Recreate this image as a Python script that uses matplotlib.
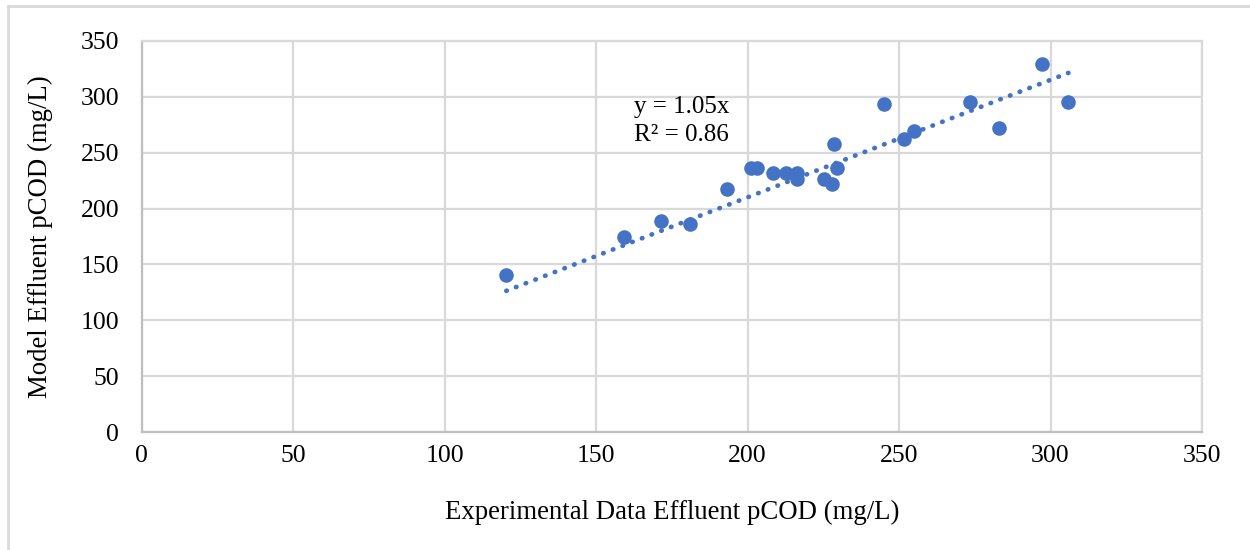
import numpy as np
import matplotlib
matplotlib.use("Agg")
import matplotlib.pyplot as plt
from matplotlib.lines import Line2D

# Data
exp_pcod = [120.4, 159.1, 171.4, 180.9, 193.3, 201.2, 203.2, 208.3, 212.7, 216.2,
            216.2, 225.1, 227.8, 229.5, 228.5, 245.2, 251.5, 254.8, 273.4, 283.0,
            297.1, 305.9]
model_pcod = [140.6, 174.3, 188.8, 186.1, 217.2, 235.9, 235.9, 231.5, 231.5, 231.5,
              226.4, 226.4, 221.9, 235.9, 257.4, 293.1, 262.1, 269.3, 295.4, 271.7,
              328.9, 295.4]
trend_slope = 1.05
x_ticks = [0, 50, 100, 150, 200, 250, 300, 350]
y_ticks = [0, 50, 100, 150, 200, 250, 300, 350]
eq_label = "y = 1.05x"
r2_label = "R² = 0.86"
x_title = "Experimental Data Effluent pCOD (mg/L)"
y_title = "Model Effluent pCOD (mg/L)"

plt.rcParams['font.family'] = ['Liberation Serif', 'DejaVu Serif']
blue = "#4472C4"
grid_c = "#D9D9D9"

fig = plt.figure(figsize=(12.5, 5.5), dpi=100)
ax = fig.add_axes([0.1132, 0.214, 0.9616 - 0.1132, 0.926 - 0.214])

x = np.array(exp_pcod)
y = np.array(model_pcod)
xt = np.array([x.min(), x.max()])
ax.plot(xt, trend_slope * xt, color=blue, lw=3.4, linestyle=(0, (0.1, 2.1)),
        dash_capstyle='round', zorder=2)
ax.scatter(x, y, s=110, color=blue, zorder=3, linewidths=0)

ax.set_xlim(0, 350)
ax.set_ylim(0, 350)
ax.set_xticks(x_ticks)
ax.set_yticks(y_ticks)
ax.grid(True, color=grid_c, lw=1.6)
ax.set_axisbelow(True)
for s in ['top', 'right']:
    ax.spines[s].set_color(grid_c)
    ax.spines[s].set_linewidth(1.6)
for s in ['left', 'bottom']:
    ax.spines[s].set_color("#BFBFBF")
    ax.spines[s].set_linewidth(1.6)
ax.tick_params(length=0, labelsize=18.5, pad=9)
ax.tick_params(axis='y', pad=16)

ax.set_xlabel(x_title, fontsize=19.3, labelpad=24)
ax.set_ylabel(y_title, fontsize=19.3, labelpad=20)

ax.text(162.7, 290.7, eq_label, fontsize=18, va='center', ha='left')
ax.text(162.7, 265.7, r2_label, fontsize=18, va='center', ha='left')

# chart-area border
fig.add_artist(Line2D([8/1250, 8/1250], [0, 1 - 6/550], transform=fig.transFigure,
                      color=grid_c, lw=2))
fig.add_artist(Line2D([8/1250, 1], [1 - 6/550, 1 - 6/550], transform=fig.transFigure,
                      color=grid_c, lw=2))

fig.savefig("out.png", dpi=100, facecolor="white")
